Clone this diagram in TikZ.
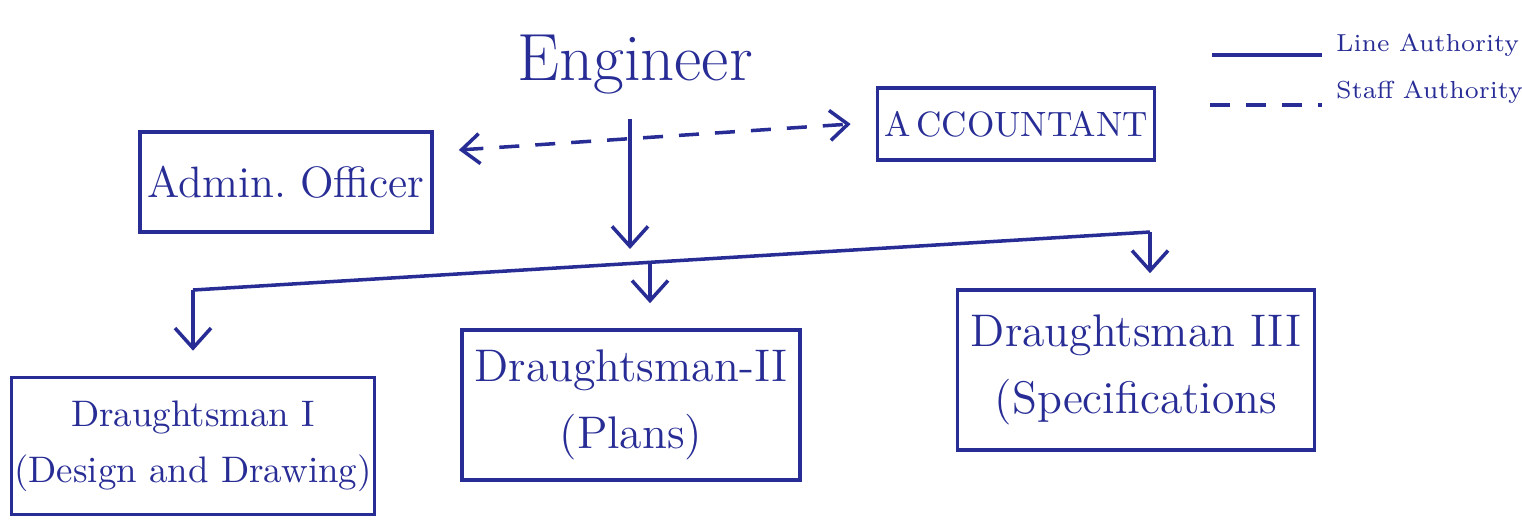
\documentclass[tikz,border=0pt]{standalone}
\usetikzlibrary{arrows.meta}
\definecolor{ink}{RGB}{40,45,150}
\begin{document}
\begin{tikzpicture}[x=0.01cm,y=-0.01cm,
  every node/.style={text=ink},
  box/.style={draw=ink,line width=1pt,inner sep=0pt,align=center},
  line/.style={draw=ink,line width=1pt},
  lineauth/.style={line,-{Straight Barb[length=2mm,width=3.6mm]},shorten >=2.5mm},
  staffauth/.style={line,dash pattern=on 2mm off 1.6mm,{Straight Barb[length=1.8mm,width=3mm]}-{Straight Barb[length=1.8mm,width=3mm]}}
]
\useasboundingbox (0,0) rectangle (1522,520);
% nodes
\node[font=\fontsize{19}{22}\selectfont] (eng) at (635,65) {Engineer};
\node[box,minimum width=2.92cm,minimum height=1.0cm,font=\fontsize{12.5}{15}\selectfont] (admin) at (286,182) {Admin.\ Officer};
\node[box,minimum width=2.77cm,minimum height=0.72cm,font=\fontsize{10}{12}\selectfont] (acct) at (1016,124) {A\,CCOUNTANT};
\node[box,minimum width=3.63cm,minimum height=1.37cm,font=\fontsize{10.5}{16}\selectfont] (d1) at (193,446) {Draughtsman I\\(Design and Drawing)};
\node[box,minimum width=3.38cm,minimum height=1.5cm,font=\fontsize{13}{19}\selectfont] (d2) at (631,405) {Draughtsman-II\\(Plans)};
\node[box,minimum width=3.57cm,minimum height=1.6cm,font=\fontsize{13}{19}\selectfont] (d3) at (1136,370) {Draughtsman III\\(Specifications};
% bus
\coordinate (busL) at (193,290);
\coordinate (bus) at (630,264);
\coordinate (busM) at (650,262);
\coordinate (busR) at (1150,232);
\draw[line,-{Straight Barb[length=2mm,width=3.6mm]},shorten >=1.5mm] (eng.south -| bus) ++(0,12) -- (bus);
\draw[line] (busL) -- (busR);
\draw[lineauth] (busL) -- (d1.north);
\draw[lineauth] (busM) -- (busM |- d2.north);
\draw[line,-{Straight Barb[length=2mm,width=3.6mm]},shorten >=1.5mm] (busR) -- (busR |- d3.north);
% staff authority
\draw[staffauth] ([xshift=2.5mm,yshift=3.2mm]admin.east) -- ([xshift=-2.5mm]acct.west);
% legend
\node[anchor=west,inner sep=1pt,font=\fontsize{7}{9}\selectfont] (lt) at (1332,45) {Line Authority};
\node[anchor=west,inner sep=1pt,font=\fontsize{7}{9}\selectfont] (st) at (1332,92) {Staff Authority};
\coordinate (l1) at (1212,55);
\coordinate (l2) at (1210,105);
\draw[line] (l1) -- ([xshift=-1mm]l1 -| lt.west);
\draw[line,dash pattern=on 2mm off 1.6mm] (l2) -- ([xshift=-1mm]l2 -| st.west);
\end{tikzpicture}
\end{document}
